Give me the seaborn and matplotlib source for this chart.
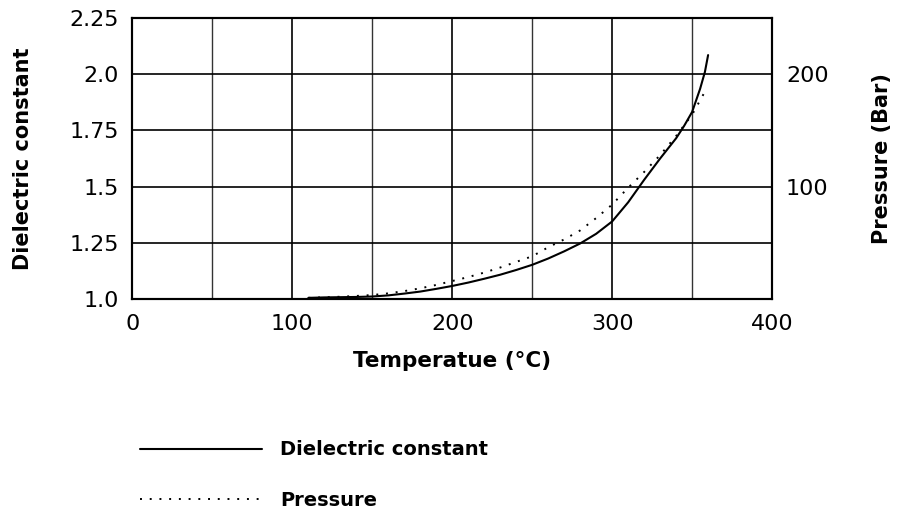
import matplotlib
matplotlib.use("Agg")
import matplotlib.pyplot as plt
import seaborn as sns
import pandas as pd

# values
temp_dc = [110, 120, 130, 140, 150, 160, 170, 180, 190, 200, 210, 220, 230, 240,
           250, 260, 270, 280, 290, 300, 310, 320, 330, 340, 345, 350, 355, 358, 360]
dielectric = [1.005, 1.007, 1.008, 1.009, 1.011, 1.016, 1.024, 1.033, 1.045, 1.058,
              1.073, 1.090, 1.108, 1.129, 1.152, 1.180, 1.212, 1.247, 1.290, 1.345,
              1.430, 1.530, 1.625, 1.715, 1.770, 1.832, 1.935, 2.010, 2.085]

temp_p = [110, 120, 130, 140, 150, 160, 170, 180, 190, 200, 210, 220, 230, 240,
          250, 260, 270, 280, 290, 300, 310, 320, 330, 340, 350, 359]
pressure = [1.0, 1.5, 2.0, 2.7, 3.5, 5.0, 7.0, 9.5, 12.5, 16.0, 19.5, 23.5, 28.0, 33.0,
            38.0, 46.0, 53.0, 61.0, 72.0, 84.0, 99.0, 113.0, 128.0, 145.0, 164.0, 187.0]

x_ticks = [0, 100, 200, 300, 400]
y_ticks = [1.0, 1.25, 1.5, 1.75, 2.0, 2.25]
y_tick_labels = ["1.0", "1.25", "1.5", "1.75", "2.0", "2.25"]
p_ticks = [100, 200]


def main():
    sns.set_style("white")
    plt.rcParams["font.family"] = ["DejaVu Sans"]
    plt.rcParams["text.color"] = "black"
    plt.rcParams["axes.labelcolor"] = "black"

    df_dc = pd.DataFrame({"Temperature": temp_dc, "Dielectric constant": dielectric})
    df_p = pd.DataFrame({"Temperature": temp_p, "Pressure": pressure})

    fig = plt.figure(figsize=(9.03, 5.17), dpi=100)
    ax = fig.add_axes([0.1467, 0.4217, 0.7083, 0.5435])
    ax2 = ax.twinx()

    sns.lineplot(data=df_dc, x="Temperature", y="Dielectric constant", ax=ax,
                 color="black", lw=1.5, label="Dielectric constant", legend=False)
    sns.lineplot(data=df_p, x="Temperature", y="Pressure", ax=ax2,
                 color="black", lw=1.4, linestyle=(0, (1, 4)), label="Pressure",
                 legend=False)

    ax.set_xlim(0, 400)
    ax.set_ylim(1.0, 2.25)
    ax2.set_ylim(0, 250)

    ax.set_xticks(x_ticks)
    ax.set_xticks([50, 150, 250, 350], minor=True)
    ax.set_yticks(y_ticks)
    ax.set_yticklabels(y_tick_labels)
    ax2.set_yticks(p_ticks)

    ax.grid(True, which="major", color="black", lw=1.2)
    ax.grid(True, which="minor", axis="x", color="#333333", lw=1.0)
    ax.set_axisbelow(True)

    for a in (ax, ax2):
        for s in a.spines.values():
            s.set_color("black")
            s.set_linewidth(1.5)
        a.tick_params(length=0, labelsize=16, colors="black")
    ax.tick_params(axis="x", pad=11)
    ax.tick_params(axis="y", pad=10)
    ax2.tick_params(axis="y", pad=10)

    ax.set_xlabel("Temperatue (°C)", fontsize=15.5, fontweight="bold", labelpad=12)
    ax.set_ylabel("Dielectric constant", fontsize=15, fontweight="bold", labelpad=26)
    ax2.set_ylabel("Pressure (Bar)", fontsize=15, fontweight="bold", labelpad=31)

    h1, l1 = ax.get_legend_handles_labels()
    h2, l2 = ax2.get_legend_handles_labels()
    fig.legend(h1 + h2, l1 + l2, loc="upper left", bbox_to_anchor=(0.155, 0.148),
               frameon=False, handlelength=6.3, handletextpad=0.9,
               labelspacing=1.6, borderpad=0, borderaxespad=0,
               prop={"weight": "bold", "size": 14})

    fig.savefig("out.png", dpi=100)
    plt.close(fig)


if __name__ == "__main__":
    main()
